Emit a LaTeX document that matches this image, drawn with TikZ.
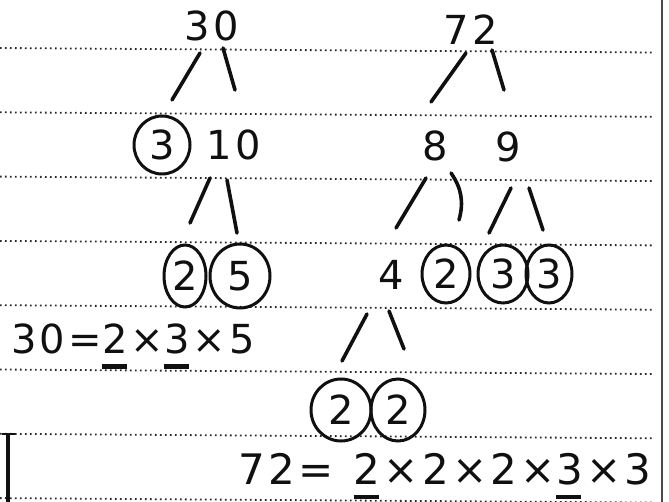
\documentclass[tikz,border=0pt]{standalone}
\usepackage{fontspec}
\usepackage{tikz}
\usetikzlibrary{shapes.geometric}
\newfontfamily\hand[LetterSpace=8]{DejaVu Sans}
\definecolor{cInk}{HTML}{101010}
\definecolor{cRule}{HTML}{262626}
\definecolor{cEdge}{HTML}{4A4A4A}
\tikzset{
  num/.style={font=\hand\fontsize{40}{44}\selectfont, text=cInk, inner sep=0pt},
  bignum/.style={num, font=\hand\fontsize{42}{46}\selectfont},
  ringed/.style={num, ellipse, draw=cInk, line width=3pt},
  branch/.style={cInk, line width=3.6pt, line cap=round},
  ruling/.style={cRule, line width=1.8pt, dash pattern=on 1.6pt off 3.4pt},
  margin/.style={cEdge, line width=1.4pt}
}
\newcommand{\keep}[1]{\rlap{\raisebox{-15pt}{\rule{25pt}{4.5pt}}}#1}

\begin{document}
\begin{tikzpicture}[x=1pt, y=-1pt]
\useasboundingbox (0,0) rectangle (669,502);
% ruled paper
\foreach \i in {0,...,7}
  \draw[ruling] (0,48+64.3*\i) -- (652,52.5+64.3*\i);
\draw[margin] (662,0) -- (662,502);
\draw[cInk, line width=3.2pt] (8,434) -- (8,502);
\draw[cInk, line width=2.8pt] (2,434) -- (15,434);
% tree for 30
\node[num] (n30) at (212,26) {30};
\node[ringed, minimum width=56pt, minimum height=58pt] (c3) at (162,145) {3};
\node[num] (n10) at (234,145) {10};
\node[ringed, minimum width=42pt, minimum height=62pt] (c2a) at (185,276) {2};
\node[ringed, minimum width=60pt, minimum height=64pt] (c5) at (240,276) {5};
\draw[branch] ([shift={(-12,27)}]n30.center) -- ([shift={(10,-45)}]c3.center);
\draw[branch] ([shift={(11,22)}]n30.center) -- ([shift={(1,-55)}]n10.center);
\draw[branch] ([shift={(-24,33)}]n10.center) -- ([shift={(5,-53)}]c2a.center);
\draw[branch] ([shift={(-7,35)}]n10.center) -- ([shift={(-3,-43)}]c5.center);
% tree for 72
\node[num] (n72) at (471,30) {72};
\node[num] (n8) at (435,146) {8};
\node[num] (n9) at (508,147) {9};
\node[num] (n4) at (391,275) {4};
\node[ringed, minimum width=48pt, minimum height=58pt] (c2b) at (446,274) {2};
\node[ringed, minimum width=50pt, minimum height=58pt] (c3b) at (503,274) {3};
\node[ringed, minimum width=46pt, minimum height=58pt] (c3c) at (549,274) {3};
\node[ringed, minimum width=60pt, minimum height=62pt] (c2c) at (341,410) {2};
\node[ringed, minimum width=54pt, minimum height=62pt] (c2d) at (398,410) {2};
\draw[branch] ([shift={(-5,23)}]n72.center) -- ([shift={(-4,-44)}]n8.center);
\draw[branch] ([shift={(21,20)}]n72.center) -- ([shift={(-4,-57)}]n9.center);
\draw[branch] ([shift={(-9,32)}]n8.center) -- ([shift={(5,-47)}]n4.center);
\draw[branch] ([shift={(16,27)}]n8.center) to[bend left=25] ([shift={(13,-54)}]c2b.center);
\draw[branch] ([shift={(3,41)}]n9.center) -- ([shift={(-14,-41)}]c3b.center);
\draw[branch] ([shift={(21,41)}]n9.center) -- ([shift={(-6,-44)}]c3c.center);
\draw[branch] ([shift={(-24,39)}]n4.center) -- ([shift={(1,-49)}]c2c.center);
\draw[branch] ([shift={(-2,36)}]n4.center) -- ([shift={(6,-61)}]c2d.center);
% products
\node[num, anchor=base west] (eq30) at (11,354) {30=\keep{2}×\keep{3}×5};
\node[bignum, anchor=base west] (eq72) at (238,484) {72=\hspace{20pt}\keep{2}×2×2×\keep{3}×3};
\end{tikzpicture}
\end{document}
